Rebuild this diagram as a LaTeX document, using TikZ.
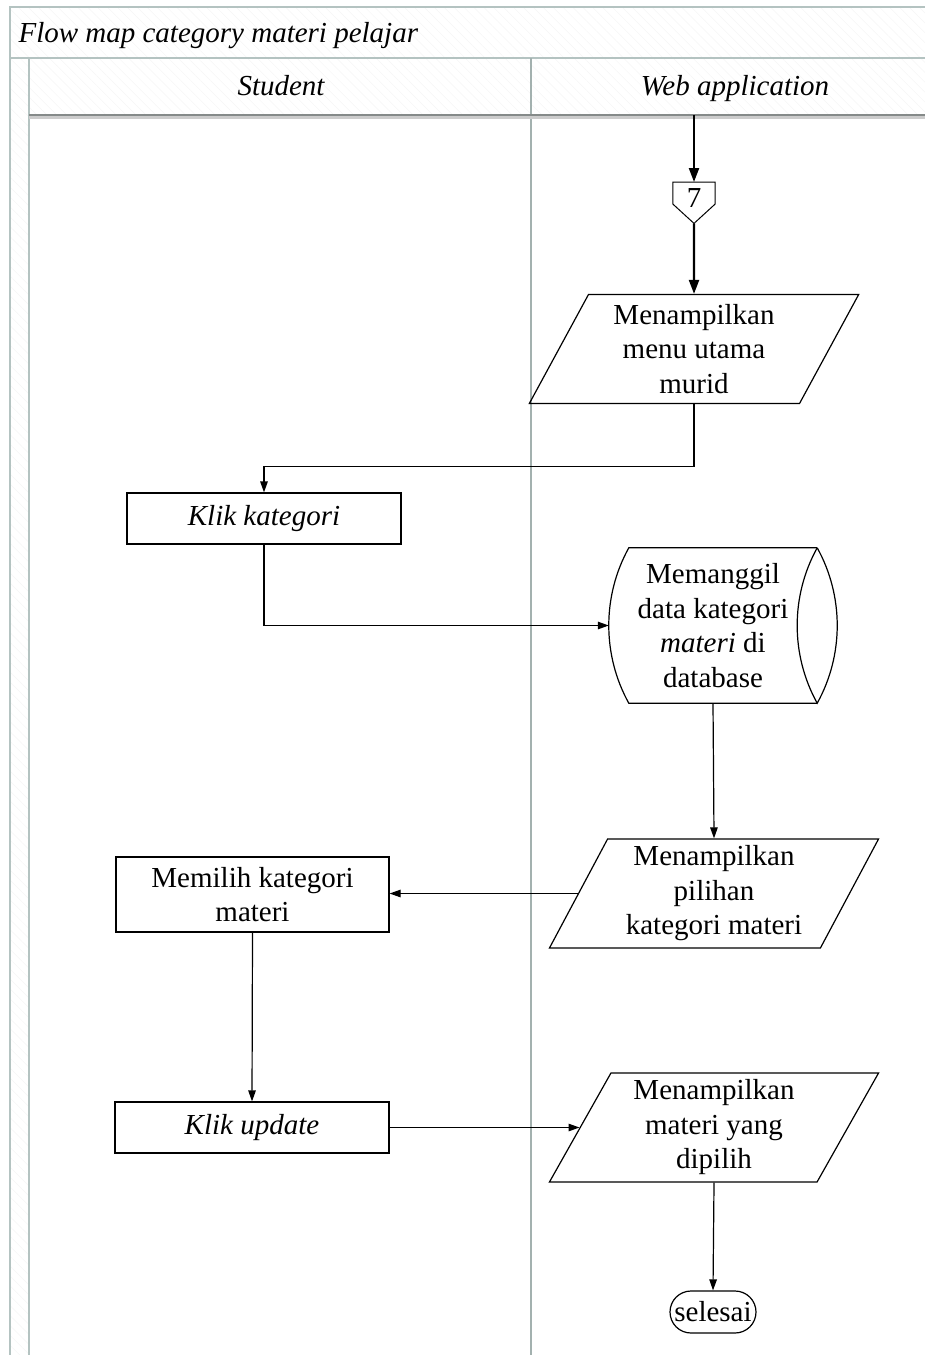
\documentclass[tikz,border=0pt]{standalone}
\usepackage{fontspec}
\setmainfont{Liberation Serif}
\usetikzlibrary{arrows.meta,shapes.geometric,calc,patterns.meta}
\definecolor{lanegray}{HTML}{B4C3C1}
\definecolor{lanedark}{HTML}{A3B1AF}
\definecolor{headline}{HTML}{858A89}
\begin{document}
\begin{tikzpicture}[x=1pt,y=-1pt,
  font=\fontsize{29}{34.5}\selectfont,
  frameline/.style={draw=lanegray, line width=1.3pt},
  hatch/.style={pattern={Lines[angle=-45,distance=7pt,line width=0.5pt]}, pattern color=black!4},
  shapeline/.style={draw=black, line width=1.2pt},
  procbox/.style={shapeline, rectangle, minimum width=274, inner sep=2pt, align=center},
  iobox/.style={shapeline, trapezium, trapezium left angle=63.43, trapezium right angle=116.57,
    trapezium stretches, minimum width=330, minimum height=109, inner sep=1pt, align=center},
  flow/.style={line width=1.2pt, -{Triangle[length=11pt,width=7.5pt]}},
  bigflow/.style={line width=2.2pt, -{Triangle[length=14pt,width=10pt]}},
  lanetitle/.style={font=\fontsize{29}{34.5}\selectfont\itshape}
]
\useasboundingbox (0,0) rectangle (925,1355);
\clip (0,0) rectangle (925,1355);

% pool frame: title band, lane headers and left strip
\fill[hatch] (10,7) rectangle (940,58);
\fill[hatch] (29,58) rectangle (940,115);
\fill[hatch] (10,58) rectangle (29,1360);
\draw[frameline] (940,7) -- (10,7) -- (10,1360);
\draw[frameline] (10,58) -- (940,58);
\draw[frameline] (29,58) -- (29,1360);
\draw[draw=lanedark, line width=1.5pt] (531,58) -- (531,1360);
\draw[draw=black!20, line width=3pt] (29,117) -- (940,117);
\draw[draw=headline, line width=1.8pt] (29,115) -- (940,115);

\node[lanetitle, anchor=base west] (ttl) at (15,42) {Flow map category materi pelajar};
\node[lanetitle, anchor=base] (st) at (281,95) {Student};
\node[lanetitle, anchor=base] (wa) at (735,95) {Web application};

% off-page connector
\coordinate (top) at (694,115);
\node[minimum width=42, minimum height=41, inner sep=0, text height=20pt, text depth=11pt,
  anchor=north] (c7) at (694,182) {7};
\draw[shapeline, line width=1pt] (c7.north west) -- (c7.north east) -- ($(c7.north east)+(0,22)$)
  -- (c7.south) -- ($(c7.north west)+(0,22)$) -- cycle;

% web application lane
\node[iobox] (p1) at (694,349) {Menampilkan\\menu utama\\murid};

% stored data: flat top and bottom, an arc on the left and a lens on the right
\node[minimum width=208, minimum height=155, inner sep=0, align=center] (db) at (713,625.5)
  {Memanggil\\data kategori\\\textit{materi} di\\database};
\coordinate (dbTL) at ($(db.north west)+(20,0)$);
\coordinate (dbBL) at ($(db.south west)+(20,0)$);
\draw[shapeline] (db.north east) -- (dbTL)
  .. controls ($(dbTL)+(-26.7,48.2)$) and ($(dbBL)+(-26.7,-48.2)$) .. (dbBL) -- (db.south east);
\draw[shapeline] (db.north east)
  .. controls ($(db.north east)+(26.7,48.2)$) and ($(db.south east)+(26.7,-48.2)$) .. (db.south east)
  .. controls ($(db.south east)+(-26.7,-48.2)$) and ($(db.north east)+(-26.7,48.2)$) .. (db.north east);

\node[iobox] (p2) at (714,893.5) {Menampilkan\\pilihan\\kategori materi};
\node[iobox] (p3) at (714,1127.5) {Menampilkan\\materi yang\\dipilih};
\node[shapeline, rounded corners=21pt, minimum width=86, minimum height=42, inner sep=0] (end)
  at (713,1312) {selesai};

% student lane
\node[procbox, minimum height=51, font=\fontsize{29}{34.5}\selectfont\itshape] (k1) at (264,518.5) {Klik kategori};
\node[procbox, minimum width=273, minimum height=75] (m1) at (252.5,894.5) {Memilih kategori\\materi};
\node[procbox, minimum height=51, font=\fontsize{29}{34.5}\selectfont\itshape] (u1) at (252,1127.5) {Klik update};

% connectors
\draw[bigflow] (top) -- (c7.north);
\draw[bigflow] (c7.south) -- (p1.north);
\draw[flow] (p1.south) -- ++(0,62) -| (k1.north);
\draw[flow] (k1.south) |- (db.west);
\draw[flow] (db.south) -- (p2.north);
\draw[flow] (p2.west) -- (p2.west -| m1.east);
\draw[flow] (m1.south) -- (u1.north);
\draw[flow] (u1.east) -- (u1.east -| p3.west);
\draw[flow] (p3.south) -- (end.north);
\end{tikzpicture}
\end{document}
